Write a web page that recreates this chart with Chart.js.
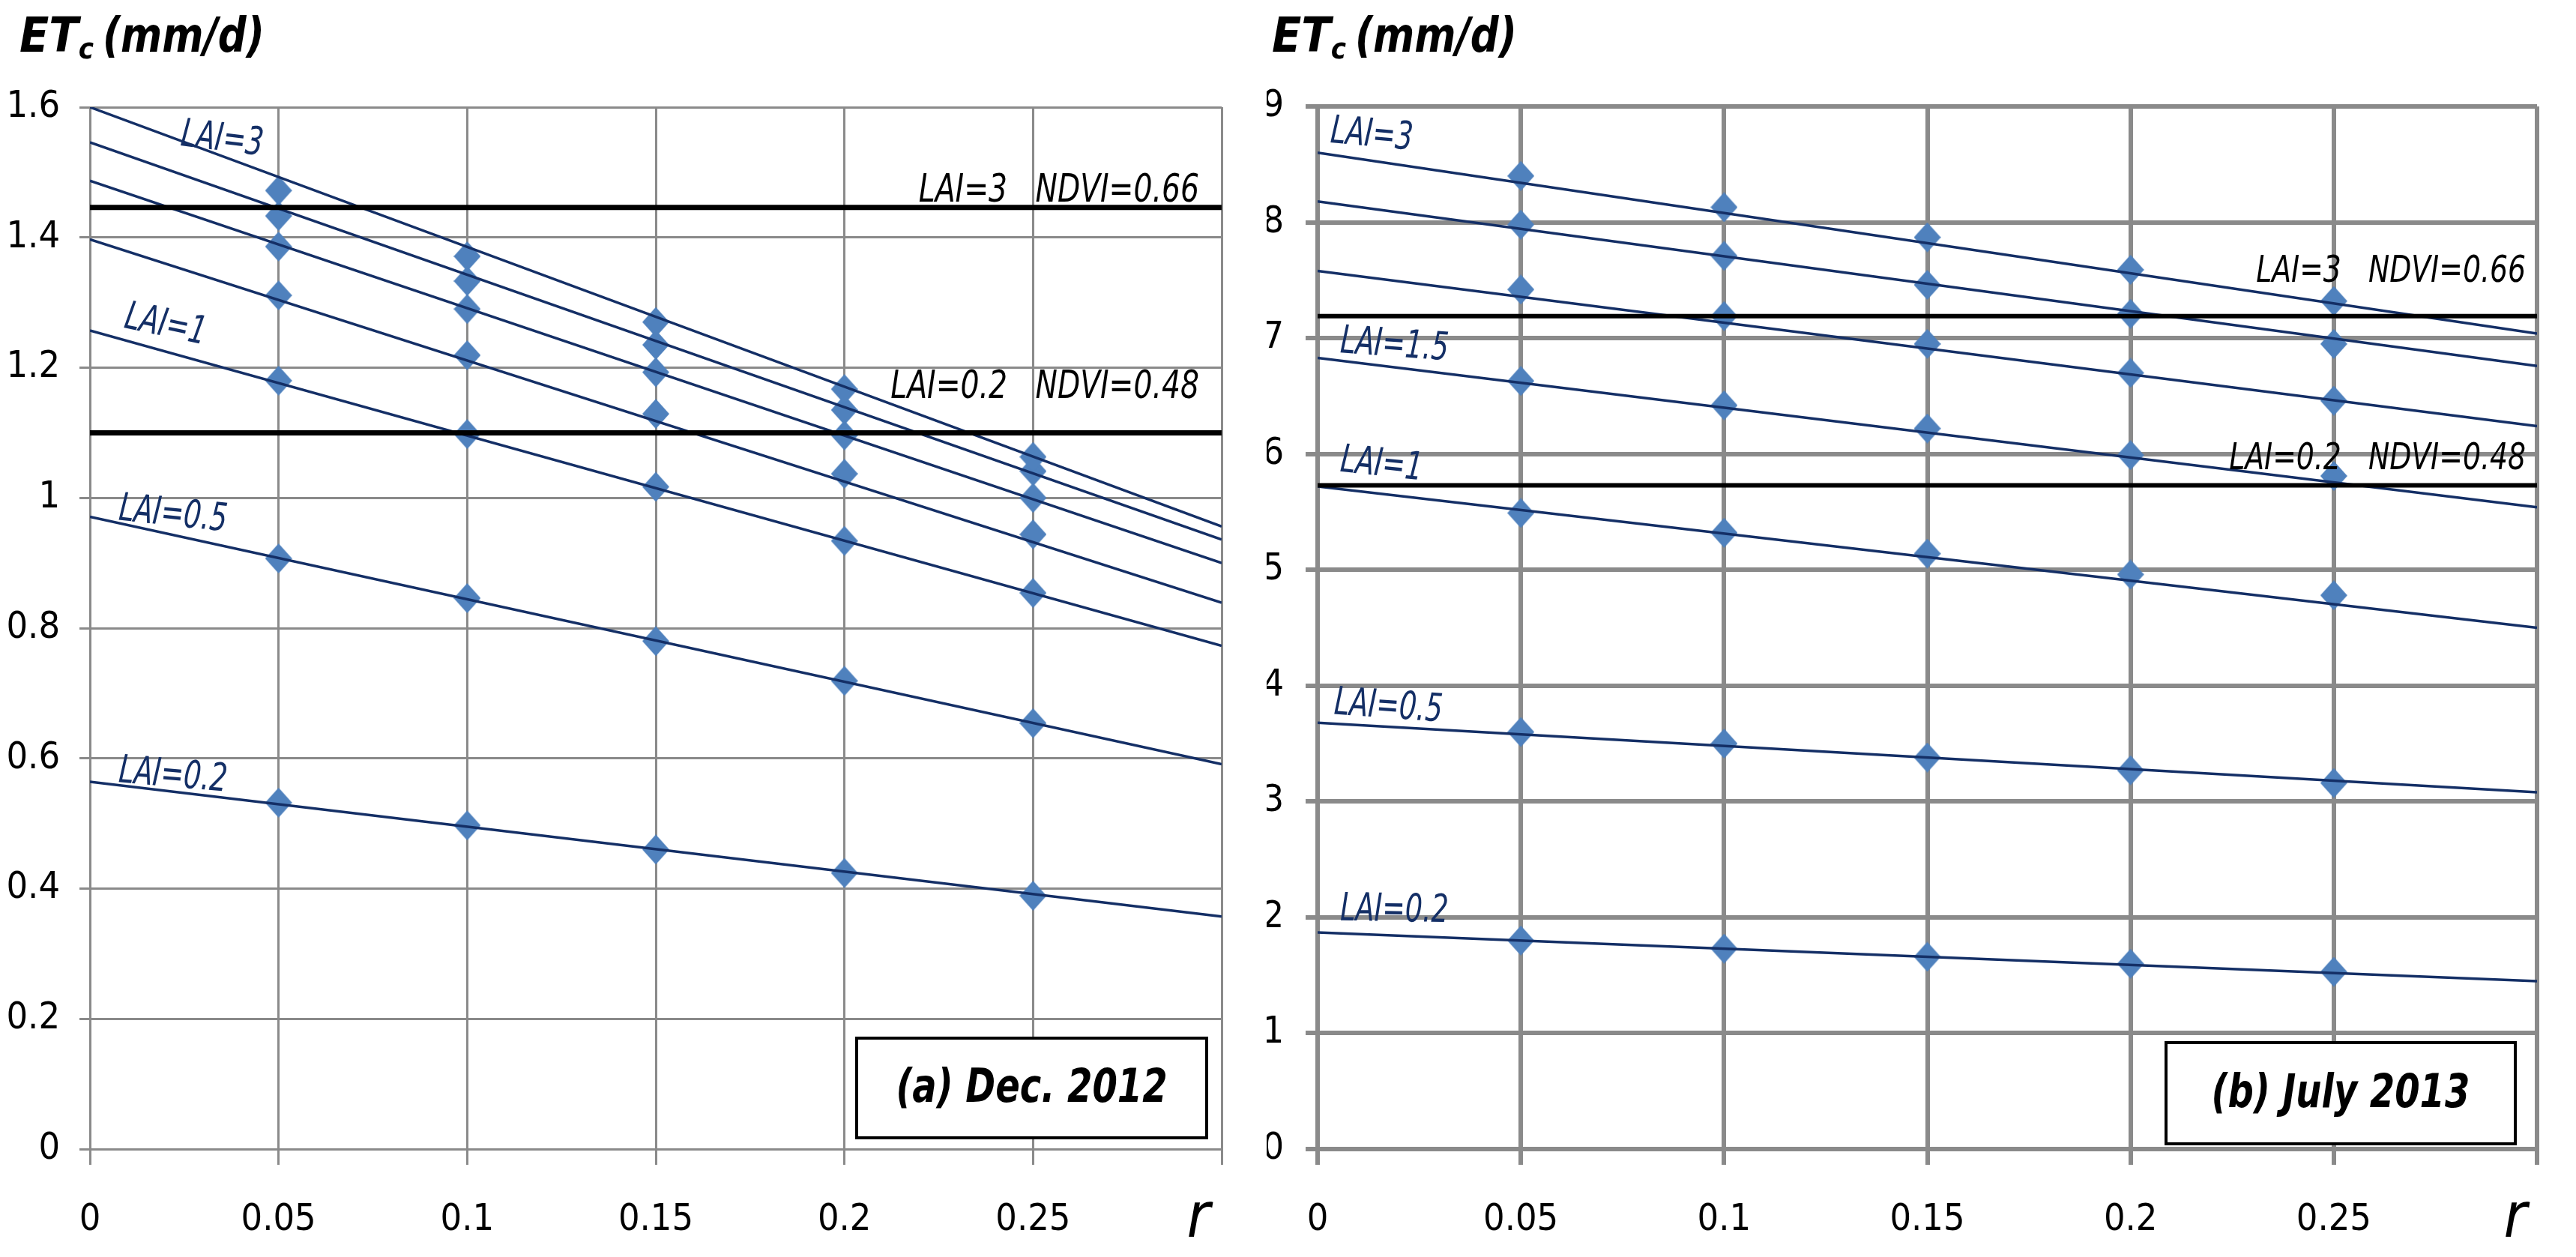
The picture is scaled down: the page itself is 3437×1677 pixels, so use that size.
<!DOCTYPE html>
<html>
<head>
  <meta charset="utf-8">
  <title>ETc versus r</title>
  <style>
    html, body { margin: 0; padding: 0; background: #fff; }
    #wrap { position: relative; width: 3437px; height: 1677px; }
    .panel { position: absolute; top: 0; height: 1677px; }
    #panelA { left: 0; width: 1690px; }
    #panelB { left: 1690px; width: 1747px; }
  </style>
</head>
<body>
  <div id="wrap">
    <div class="panel" id="panelA"><canvas id="chartA"></canvas></div>
    <div class="panel" id="panelB"><canvas id="chartB"></canvas></div>
  </div>

  <script src="https://cdn.jsdelivr.net/npm/chart.js"></script>
  <script>
    // ---- data ----
    const rValues = [0.05, 0.1, 0.15, 0.2, 0.25];
    const laiValues = [3, 2.5, 2, 1.5, 1, 0.5, 0.2];
    const xTicks = [0, 0.05, 0.1, 0.15, 0.2, 0.25, 0.3];
    const xTickLabels = ['0', '0.05', '0.1', '0.15', '0.2', '0.25', ''];

    // (a) Dec. 2012
    const decTicks = [0, 0.2, 0.4, 0.6, 0.8, 1, 1.2, 1.4, 1.6];
    const decTickLabels = ['0', '0.2', '0.4', '0.6', '0.8', '1', '1.2', '1.4', '1.6'];
    const decLai3 = [1.472, 1.371, 1.270, 1.167, 1.063];
    const decLai25 = [1.433, 1.333, 1.235, 1.135, 1.041];
    const decLai2 = [1.386, 1.290, 1.193, 1.096, 1.000];
    const decLai15 = [1.311, 1.219, 1.129, 1.037, 0.944];
    const decLai1 = [1.180, 1.098, 1.017, 0.934, 0.854];
    const decLai05 = [0.907, 0.846, 0.780, 0.719, 0.654];
    const decLai02 = [0.532, 0.497, 0.460, 0.424, 0.389];
    const decTrendAt0 = [1.600, 1.546, 1.487, 1.397, 1.257, 0.971, 0.564];
    const decTrendAt03 = [0.956, 0.936, 0.900, 0.839, 0.773, 0.591, 0.357];
    const decRefValues = [1.446, 1.10];
    const decRefNotes = ['LAI=3   NDVI=0.66', 'LAI=0.2   NDVI=0.48'];

    // (b) July 2013
    const julTicks = [0, 1, 2, 3, 4, 5, 6, 7, 8, 9];
    const julTickLabels = ['0', '1', '2', '3', '4', '5', '6', '7', '8', '9'];
    const julLai3 = [8.40, 8.13, 7.87, 7.59, 7.32];
    const julLai25 = [7.98, 7.71, 7.46, 7.21, 6.95];
    const julLai2 = [7.42, 7.19, 6.95, 6.70, 6.46];
    const julLai15 = [6.63, 6.42, 6.22, 5.99, 5.81];
    const julLai1 = [5.49, 5.32, 5.14, 4.96, 4.78];
    const julLai05 = [3.60, 3.50, 3.38, 3.27, 3.16];
    const julLai02 = [1.80, 1.73, 1.66, 1.60, 1.53];
    const julTrendAt0 = [8.60, 8.18, 7.58, 6.83, 5.72, 3.68, 1.87];
    const julTrendAt03 = [7.04, 6.76, 6.24, 5.54, 4.50, 3.08, 1.45];
    const julRefValues = [7.19, 5.73];
    const julRefNotes = ['LAI=3   NDVI=0.66', 'LAI=0.2   NDVI=0.48'];

    // ---- styling ----
    const FONT = '"Liberation Sans Narrow", "DejaVu Sans Condensed", "Open Sans", sans-serif';
    const NAVY = '#142f66';
    const MARKER = '#4f81bd';
    const GRID = '#8a8a8a';

    function makeDiamond(w, h) {
      const c = document.createElement('canvas');
      c.width = w; c.height = h;
      const g = c.getContext('2d');
      g.fillStyle = MARKER;
      g.beginPath();
      g.moveTo(w / 2, 0);
      g.lineTo(w, h / 2);
      g.lineTo(w / 2, h);
      g.lineTo(0, h / 2);
      g.closePath();
      g.fill();
      return c;
    }
    const diamond = makeDiamond(36, 40);

    // text squeezed sideways, the source font is a tall narrow one
    function squeezed(ctx, text, x, y, sx, angle) {
      ctx.save();
      ctx.translate(x, y);
      if (angle) ctx.rotate(angle * Math.PI / 180);
      ctx.scale(sx, 1);
      ctx.fillText(text, 0, 0);
      ctx.restore();
    }

    const decorPlugin = {
      id: 'decor',
      afterDatasetsDraw(chart, args, opts) {
        const ctx = chart.ctx;
        const xs = chart.scales.x, ys = chart.scales.y, area = chart.chartArea;
        ctx.save();

        // LAI labels next to the lines
        ctx.fillStyle = NAVY;
        ctx.font = 'italic 52px ' + FONT;
        ctx.textAlign = 'center';
        ctx.textBaseline = 'middle';
        opts.laiLabels.forEach(l => {
          squeezed(ctx, l.text, xs.getPixelForValue(l.x), ys.getPixelForValue(l.y), 0.78, l.angle);
        });

        // notes above the horizontal reference lines
        ctx.fillStyle = '#000';
        ctx.font = 'italic ' + opts.noteSize + 'px ' + FONT;
        ctx.textAlign = 'right';
        ctx.textBaseline = 'alphabetic';
        opts.refNotes.forEach((t, i) => {
          squeezed(ctx, t, area.right - opts.noteRight,
            ys.getPixelForValue(opts.refValues[i]) - opts.noteGap[i], 0.84);
        });

        // panel caption box
        const b = opts.box;
        const bx = area.right - b.right - b.w, by = area.bottom - b.bottom - b.h;
        ctx.fillStyle = '#fff';
        ctx.fillRect(bx, by, b.w, b.h);
        ctx.strokeStyle = '#000';
        ctx.lineWidth = 4;
        ctx.strokeRect(bx, by, b.w, b.h);
        ctx.fillStyle = '#000';
        ctx.font = 'italic bold 62px ' + FONT;
        ctx.textAlign = 'center';
        ctx.textBaseline = 'middle';
        squeezed(ctx, b.text, bx + b.w / 2, by + b.h / 2 + 2, 0.86);

        // axis name r
        ctx.font = 'italic 84px ' + FONT;
        ctx.textBaseline = 'alphabetic';
        ctx.fillText('r', area.right - opts.rRight, 1650);

        // y axis title ETc (mm/d)
        ctx.textAlign = 'left';
        let x = opts.titleX;
        const base = 69;
        ctx.font = 'italic bold 64px ' + FONT;
        ctx.fillText('ET', x, base);
        x += ctx.measureText('ET').width;
        ctx.font = 'italic bold 38px ' + FONT;
        ctx.fillText('c', x, base + 9);
        x += ctx.measureText('c').width + 12;
        ctx.font = 'italic bold 64px ' + FONT;
        squeezed(ctx, '(mm/d)', x, base, 0.92);

        ctx.restore();
      }
    };

    function buildDatasets(series, at0, at03, refValues, lineW, refW) {
      const sets = [];
      series.forEach((vals, i) => {
        sets.push({
          label: 'LAI=' + laiValues[i],
          data: rValues.map((r, j) => ({ x: r, y: vals[j] })),
          showLine: false,
          pointStyle: diamond,
          pointRadius: 18,
          order: 3
        });
        sets.push({
          label: 'trend LAI=' + laiValues[i],
          data: [{ x: xTicks[0], y: at0[i] }, { x: xTicks[xTicks.length - 1], y: at03[i] }],
          showLine: true,
          borderColor: NAVY,
          borderWidth: lineW,
          pointRadius: 0,
          order: 2
        });
      });
      refValues.forEach(v => {
        sets.push({
          label: 'ref ' + v,
          data: [{ x: xTicks[0], y: v }, { x: xTicks[xTicks.length - 1], y: v }],
          showLine: true,
          borderColor: '#000',
          borderWidth: refW,
          pointRadius: 0,
          order: 1
        });
      });
      return sets;
    }

    function makeChart(id, p) {
      return new Chart(document.getElementById(id), {
        type: 'scatter',
        data: { datasets: p.datasets },
        plugins: [decorPlugin],
        options: {
          responsive: true,
          maintainAspectRatio: false,
          devicePixelRatio: 1,
          animation: false,
          layout: { padding: { left: 0, right: p.padRight, top: p.padTop, bottom: 0 } },
          plugins: {
            legend: { display: false },
            tooltip: { enabled: false },
            decor: p.decor
          },
          scales: {
            x: {
              type: 'linear',
              min: 0,
              max: 0.3,
              afterBuildTicks: axis => { axis.ticks = xTicks.map(v => ({ value: v })); },
              afterFit: axis => { axis.height = 144; },
              ticks: {
                autoSkip: false,
                maxRotation: 0,
                padding: 44,
                color: '#000',
                font: { family: FONT, size: 50 },
                callback: (v, i) => xTickLabels[i]
              },
              grid: { color: GRID, lineWidth: p.gridW, tickLength: 21 },
              border: { color: GRID, width: p.gridW }
            },
            y: {
              type: 'linear',
              min: p.yTicks[0],
              max: p.yTicks[p.yTicks.length - 1],
              afterBuildTicks: axis => { axis.ticks = p.yTicks.map(v => ({ value: v })); },
              afterFit: axis => { axis.width = p.yWidth; },
              ticks: {
                autoSkip: false,
                padding: p.yPad,
                color: '#000',
                font: { family: FONT, size: 50 },
                callback: (v, i) => p.yLabels[i]
              },
              grid: { color: GRID, lineWidth: p.gridW, tickLength: p.yTick },
              border: { color: GRID, width: p.gridW }
            }
          }
        }
      });
    }

    makeChart('chartA', {
      datasets: buildDatasets([decLai3, decLai25, decLai2, decLai15, decLai1, decLai05, decLai02],
        decTrendAt0, decTrendAt03, decRefValues, 3.5, 7),
      yTicks: decTicks, yLabels: decTickLabels,
      padRight: 60, padTop: 143, yWidth: 120, yPad: 26, yTick: 14, gridW: 3,
      decor: {
        laiLabels: [
          { text: 'LAI=3', x: 0.035, y: 1.549, angle: 7 },
          { text: 'LAI=1', x: 0.020, y: 1.264, angle: 12 },
          { text: 'LAI=0.5', x: 0.022, y: 0.973, angle: 6 },
          { text: 'LAI=0.2', x: 0.022, y: 0.572, angle: 5 }
        ],
        refValues: decRefValues, refNotes: decRefNotes,
        noteSize: 52, noteRight: 30, noteGap: [8, 46],
        box: { text: '(a) Dec. 2012', w: 467, h: 133, right: 20, bottom: 15 },
        rRight: 31, titleX: 26
      }
    });

    makeChart('chartB', {
      datasets: buildDatasets([julLai3, julLai25, julLai2, julLai15, julLai1, julLai05, julLai02],
        julTrendAt0, julTrendAt03, julRefValues, 3.5, 6),
      yTicks: julTicks, yLabels: julTickLabels,
      padRight: 52, padTop: 142, yWidth: 68, yPad: 29, yTick: 16, gridW: 6,
      decor: {
        laiLabels: [
          { text: 'LAI=3', x: 0.0133, y: 8.745, angle: 5 },
          { text: 'LAI=1.5', x: 0.0189, y: 6.93, angle: 4 },
          { text: 'LAI=1', x: 0.0157, y: 5.90, angle: 6 },
          { text: 'LAI=0.5', x: 0.0174, y: 3.81, angle: 4 },
          { text: 'LAI=0.2', x: 0.0189, y: 2.055, angle: 1 }
        ],
        refValues: julRefValues, refNotes: julRefNotes,
        noteSize: 50, noteRight: 15, noteGap: [46, 21],
        box: { text: '(b) July 2013', w: 466, h: 135, right: 29, bottom: 7 },
        rRight: 29, titleX: 7
      }
    });
  </script>
</body>
</html>
